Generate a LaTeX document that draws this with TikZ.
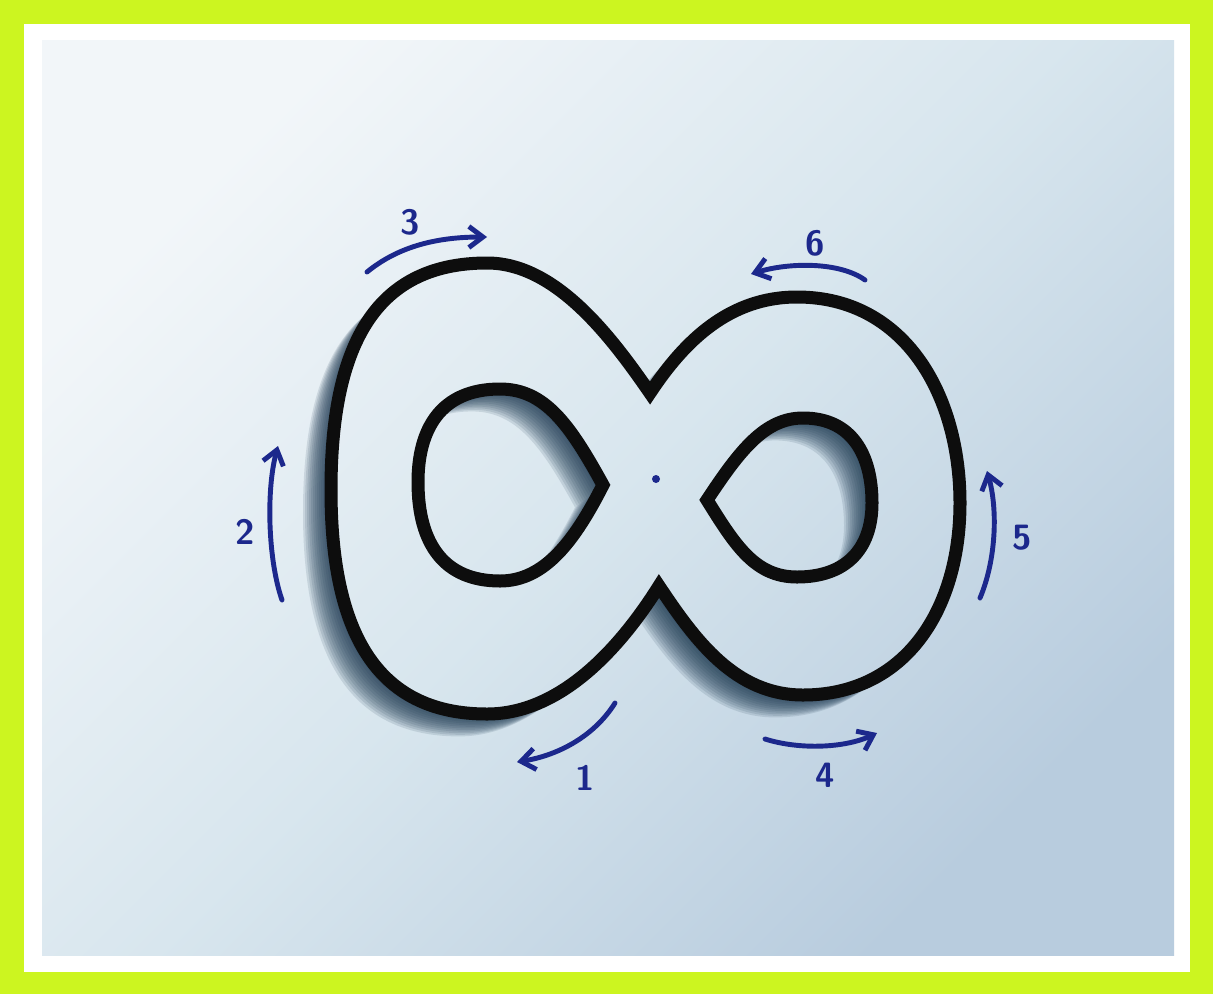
\documentclass[tikz,border=0pt]{standalone}
\usepackage{tikz}
\usetikzlibrary{arrows.meta}

\definecolor{limeframe}{RGB}{204,245,32}
\definecolor{paperhi}{RGB}{242,246,249}
\definecolor{papermid}{RGB}{216,230,238}
\definecolor{paperlo}{RGB}{184,204,222}
\definecolor{shadowc}{RGB}{30,58,82}
\definecolor{penblue}{RGB}{28,40,140}

% the cut-out, in pixel units
\newcommand{\infouter}{(650,393) .. controls (610,335) and (555,263) .. (487,263)
  .. controls (372,263) and (331,350) .. (331,490)
  .. controls (331,630) and (375,714) .. (487,714)
  .. controls (565,714) and (625,640) .. (659,586)
  .. controls (695,640) and (735,695) .. (803,695)
  .. controls (905,695) and (960,610) .. (960,503)
  .. controls (960,395) and (905,297) .. (797,297)
  .. controls (730,297) and (685,340) .. (650,393) -- cycle}
\newcommand{\infholeL}{(603,485) .. controls (570,425) and (545,389) .. (500,389)
  .. controls (440,389) and (418,430) .. (418,482)
  .. controls (418,545) and (445,581) .. (500,581)
  .. controls (545,581) and (575,540) .. (603,485) -- cycle}
\newcommand{\infholeR}{(707,500) .. controls (740,450) and (765,418) .. (803,418)
  .. controls (852,418) and (872,455) .. (872,503)
  .. controls (872,550) and (845,577) .. (797,577)
  .. controls (755,577) and (735,545) .. (707,500) -- cycle}

\tikzset{
  pen/.style={draw=penblue, line width=2.8pt, line cap=round, line join=round,
    -{Straight Barb[length=8pt,width=12pt]}},
  numlabel/.style={text=penblue, inner sep=0pt,
    font=\sffamily\bfseries\fontsize{20}{22}\selectfont},
}

\begin{document}
\begin{tikzpicture}[x=0.02cm, y=-0.02cm]
    \useasboundingbox (0,0) rectangle (1219,994);
    % frame and paper
    \fill[white] (0,0) rectangle (1219,994);
    \fill[limeframe] (0,0) rectangle (1213,994);
    \fill[white] (24,24) rectangle (1190,972);
    \shade[top color=paperhi, bottom color=paperlo, middle color=papermid,
        shading angle=45] (42,40) rectangle (1174,955);
    % shadow of the cut-out
    \begin{scope}[even odd rule]
        \clip (42,40) rectangle (1174,955) \infouter \infholeL \infholeR;
        \foreach \d in {2,4,...,28}
            \fill[shadowc, opacity=0.13, shift={(-\d,0.8*\d)}]
                \infouter \infholeL \infholeR;
    \end{scope}
    % outline
    \draw[line width=7.4pt, black!95] \infouter \infholeL \infholeR;
    \fill[penblue] (656,479) circle (4);
    % arrow 1
    \draw[pen] (615,703) .. controls (595,735) and (560,755) .. (517,762);
    \node[numlabel] (n1) at (585,778) {1};
    % arrow 2
    \draw[pen] (282,600) .. controls (268,560) and (266,490) .. (278,446);
    \node[numlabel] (n2) at (245,532) {2};
    % arrow 3
    \draw[pen] (367,272) .. controls (400,245) and (440,237) .. (487,237);
    \node[numlabel] (n3) at (410,222) {3};
    % arrow 4
    \draw[pen] (765,739) .. controls (800,750) and (845,748) .. (877,733);
    \node[numlabel] (n4) at (825,775) {4};
    % arrow 5
    \draw[pen] (980,598) .. controls (996,560) and (998,510) .. (987,471);
    \node[numlabel] (n5) at (1022,538) {5};
    % arrow 6
    \draw[pen] (865,280) .. controls (840,262) and (790,262) .. (751,274);
    \node[numlabel] (n6) at (815,243) {6};
\end{tikzpicture}
\end{document}
